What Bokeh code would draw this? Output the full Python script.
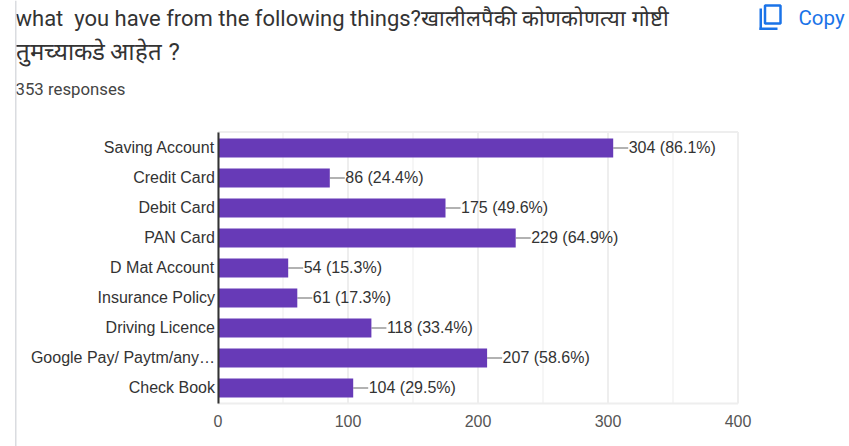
from bokeh.plotting import figure
from bokeh.embed import file_html
from bokeh.resources import INLINE
from bokeh.models import Label, BoxAnnotation, Range1d, ColumnDataSource, FixedTicker
from bokeh.core.properties import value

categories = ["Saving Account", "Credit Card", "Debit Card", "PAN Card", "D Mat Account",
              "Insurance Policy", "Driving Licence", "Google Pay/ Paytm/any\u2026", "Check Book"]
counts = [304, 86, 175, 229, 54, 61, 118, 207, 104]
percents = ["86.1", "24.4", "49.6", "64.9", "15.3", "17.3", "33.4", "58.6", "29.5"]
x_ticks = [0, 100, 200, 300, 400]
minor_ticks = [50, 150, 250, 350]
title_1 = "what \u00a0you have from the following things?खालीलपैकी कोणकोणत्या गोष्टी"
title_2 = "तुमच्याकडे आहेत ?"
subtitle = "353 responses"

W, H = 849, 446
F = "Liberation Sans"
X0_PX, PX_PER_X = 217.5, 1.3          # where x=0 lies, and px per unit
Y0_PX, PX_PER_ROW = 147.5, 30.0       # centre of the first row, and px per row
leader_px = 15

rows = list(range(len(categories)))
label_rows = [r - 1 / PX_PER_ROW for r in rows]   # the tick labels sit a little above the bar's centre
labels = [f"{c} ({q}%)" for c, q in zip(counts, percents)]
src = ColumnDataSource(dict(row=rows, n=counts, label=labels,
                            lead=[c + leader_px / PX_PER_X for c in counts]))

p = figure(width=W, height=H, output_backend="svg", toolbar_location=None,
           x_range=Range1d(-X0_PX / PX_PER_X, (W - X0_PX) / PX_PER_X),
           y_range=Range1d((H - Y0_PX) / PX_PER_ROW, -Y0_PX / PX_PER_ROW),
           min_border=0, min_border_left=0, min_border_right=0, min_border_top=0, min_border_bottom=0)
p.outline_line_color = None

row_top, row_bottom = -0.53, 8.52
x_min, x_max = x_ticks[0], x_ticks[-1]
p.xgrid.visible = False
p.ygrid.visible = False
ax = p.xaxis[0]
ay = p.yaxis[0]
p.segment(x0=minor_ticks, x1=minor_ticks, y0=[row_top] * len(minor_ticks), y1=[row_bottom] * len(minor_ticks),
          line_color="#f3f3f3", line_width=1.5)
p.segment(x0=x_ticks, x1=x_ticks, y0=[row_top] * len(x_ticks), y1=[row_bottom] * len(x_ticks),
          line_color="#eeeeee", line_width=2)
p.segment(x0=[x_min, x_min], x1=[x_max, x_max], y0=[row_top, row_bottom], y1=[row_top, row_bottom],
          line_color="#eeeeee", line_width=2)

p.segment(x0="n", x1="lead", y0="row", y1="row", source=src, line_color="#999999", line_width=1.5)
p.hbar(y="row", left=0, right="n", height=19 / PX_PER_ROW, source=src, fill_color="#673ab7", line_color=None)
p.text(x="n", y="row", text="label", source=src, x_offset=leader_px + 0.5, y_offset=-1, text_baseline="middle",
       text_font=value(F), text_font_size="16px", text_color="#333333")

ax.fixed_location = row_bottom
ax.bounds = (x_min, x_max)
ax.ticker = FixedTicker(ticks=x_ticks)
ax.axis_line_color = None
ax.major_tick_line_color = None
ax.minor_tick_line_color = None
ax.major_label_text_font = F
ax.major_label_text_font_size = "16px"
ax.major_label_text_color = "#555555"
ax.major_label_standoff = 5

ay.fixed_location = 0
ay.bounds = (row_top, row_bottom)
ay.ticker = FixedTicker(ticks=label_rows)
ay.major_label_overrides = {r: c for r, c in zip(label_rows, categories)}
ay.axis_line_color = "#333333"
ay.axis_line_width = 2
ay.major_tick_line_color = None
ay.minor_tick_line_color = None
ay.major_label_text_font = F
ay.major_label_text_font_size = "16px"
ay.major_label_text_color = "#333333"
ay.major_label_standoff = -3

def txt(x, y, t, size, color, font):
    p.add_layout(Label(x=x, y=H - y, x_units="screen", y_units="screen", text=t, text_font=font,
                       text_font_size=size, text_color=color, text_baseline="middle"))

txt(15, 18, title_1, "22px", "#333333", "Roboto")
txt(15, 51, title_2, "24px", "#333333", "Roboto")
txt(15, 88, subtitle, "16.8px", "#444444", "Roboto")
txt(798, 17, "Copy", "20.5px", "#1a73e8", "Roboto")

def box(l, r, t, b, **kw):
    p.add_layout(BoxAnnotation(left=l, right=r, top=H - t, bottom=H - b, left_units="screen", right_units="screen",
                               top_units="screen", bottom_units="screen", level="overlay", **kw))

box(14.5, 16, 0, H, fill_color="#dadce0", fill_alpha=1, line_color=None)
box(764.5, 780, 5, 23, fill_alpha=0, line_color="#1a73e8", line_alpha=1, line_width=2.5)
box(759, 761.5, 8, 29.5, fill_color="#1a73e8", fill_alpha=1, line_color=None)
box(759, 777, 27, 29.5, fill_color="#1a73e8", fill_alpha=1, line_color=None)

open("out.html", "w").write(file_html(p, INLINE))
